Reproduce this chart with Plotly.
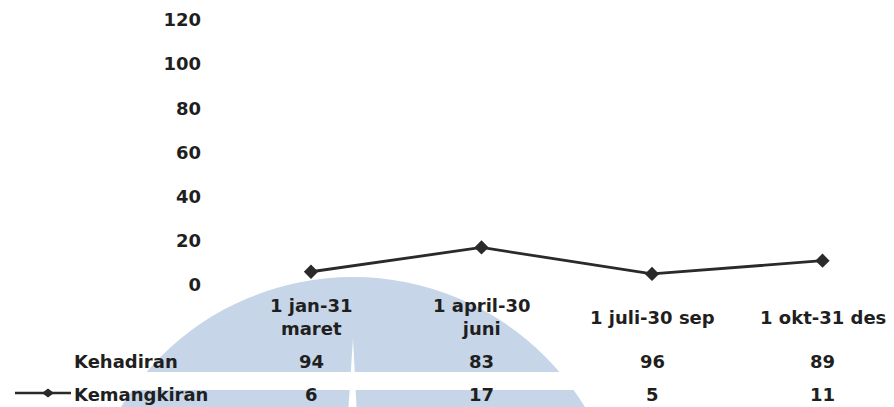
import plotly.graph_objects as go

# ---- data -------------------------------------------------------------
periods = ["1 jan-31<br>maret", "1 april-30<br>juni", "1 juli-30 sep", "1 okt-31 des"]
kehadiran = [94, 83, 96, 89]
kemangkiran = [6, 17, 5, 11]
y_ticks = [0, 20, 40, 60, 80, 100, 120]
row_labels = ["Kehadiran", "Kemangkiran"]

# ---- page geometry (pixels) ------------------------------------------
W, H = 894, 407
FONT = "DejaVu Sans"
INK = "#1f1f1f"


def px(x):
    return x / W


def py(y):
    return 1 - y / H


# category 0 sits at x=311 px, categories are 170.5 px apart
cat0_px, cat_step = 311.0, 170.5
plot_left_px = 205.0
x_range = [(plot_left_px - cat0_px) / cat_step, (W - cat0_px) / cat_step]

# value 0 at y=285 px, 120 at y=20 px
zero_px, top_px = 285.0, 20.0
unit = (zero_px - top_px) / 120.0
plot_top_px, plot_bot_px = 9.0, 296.0
y_range = [(zero_px - plot_bot_px) / unit, (zero_px - plot_top_px) / unit]

xs = list(range(len(periods)))

fig = go.Figure()
fig.add_trace(go.Scatter(
    x=xs, y=kemangkiran, mode="lines+markers", name="Kemangkiran",
    line=dict(color="#2a2a2a", width=2.8),
    marker=dict(symbol="diamond", size=11, color="#2a2a2a"),
    showlegend=False, hoverinfo="skip",
))

shapes = []
# pale blue emblem behind the table
cx, cy, R = 353.0, 549.0, 272.0
shapes.append(dict(type="circle", xref="paper", yref="paper",
                   x0=px(cx - R), x1=px(cx + R), y0=py(cy + R), y1=py(cy - R),
                   fillcolor="#c7d5e8", line=dict(width=0), layer="below"))
# white band and slit cutting the emblem
shapes.append(dict(type="rect", xref="paper", yref="paper",
                   x0=0, x1=1, y0=py(390), y1=py(372),
                   fillcolor="white", line=dict(width=0), layer="below"))
shapes.append(dict(type="path", xref="paper", yref="paper",
                   path=(f"M {px(353)} {py(338)} L {px(356.5)} {py(407)} "
                         f"L {px(348.5)} {py(407)} Z"),
                   fillcolor="white", line=dict(width=0), layer="below"))
# legend key for the plotted series
shapes.append(dict(type="line", xref="paper", yref="paper",
                   x0=px(15), x1=px(71), y0=py(393), y1=py(393),
                   line=dict(color="#2a2a2a", width=2.4)))
shapes.append(dict(type="path", xref="paper", yref="paper",
                   path=(f"M {px(42)} {py(393)} L {px(48)} {py(388.5)} "
                         f"L {px(54)} {py(393)} L {px(48)} {py(397.5)} Z"),
                   fillcolor="#2a2a2a", line=dict(width=0)))

annotations = []
tfont = dict(family=FONT, size=18, color=INK, weight="bold")
# period labels, centred on the band below the axis
for i, name in enumerate(periods):
    annotations.append(dict(x=i, y=py(317), xref="x", yref="paper", text=name,
                            showarrow=False, yanchor="middle", font=tfont))
# data table rows
for row_y, label, values in ((361, row_labels[0], kehadiran),
                             (394, row_labels[1], kemangkiran)):
    annotations.append(dict(x=px(72), y=py(row_y), xref="paper", yref="paper",
                            text=label, showarrow=False, xanchor="left",
                            yanchor="middle", font=tfont))
    for i, v in enumerate(values):
        annotations.append(dict(x=i, y=py(row_y), xref="x", yref="paper",
                                text=str(v), showarrow=False, yanchor="middle",
                                font=tfont))

fig.update_layout(
    width=W, height=H,
    margin=dict(l=0, r=0, t=0, b=0),
    paper_bgcolor="white", plot_bgcolor="rgba(0,0,0,0)",
    shapes=shapes, annotations=annotations,
    xaxis=dict(domain=[px(plot_left_px), 1], range=x_range, visible=False,
               fixedrange=True),
    yaxis=dict(domain=[py(plot_bot_px), py(plot_top_px)], range=y_range,
               tickvals=y_ticks, ticktext=[str(t) for t in y_ticks],
               showgrid=False, zeroline=False, showline=False, ticks="",
               tickfont=tfont, ticklabelstandoff=3, fixedrange=True),
)

fig.write_html("out.html", config={"displayModeBar": False})
